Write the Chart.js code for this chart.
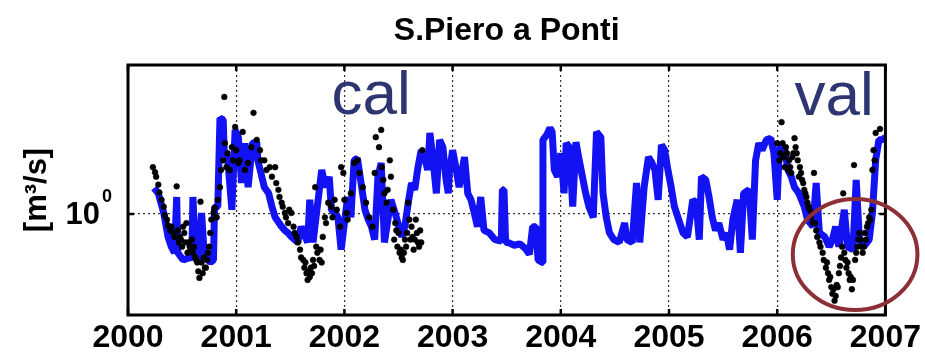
<!DOCTYPE html>
<html>
<head>
<meta charset="utf-8">
<title>S.Piero a Ponti</title>
<script src="https://cdn.jsdelivr.net/npm/chart.js@4.4.1/dist/chart.umd.min.js"></script>
<style>
  html, body { margin: 0; padding: 0; background: #fff; }
  #wrap { width: 925px; height: 358px; }
</style>
</head>
<body>
<div id="wrap"><canvas id="chart" width="925" height="358"></canvas></div>
<script>
// Simulated discharge (blue), decimal year / m3/s
const simYear = [2000.24, 2000.28, 2000.33, 2000.37, 2000.40, 2000.43, 2000.45, 2000.46, 2000.51, 2000.56,
  2000.59, 2000.60, 2000.62, 2000.65, 2000.68, 2000.70, 2000.74, 2000.76, 2000.79, 2000.80,
  2000.83, 2000.85, 2000.88, 2000.89, 2000.92, 2000.96, 2000.99, 2001.02, 2001.05, 2001.08,
  2001.11, 2001.15, 2001.19, 2001.20, 2001.26, 2001.30, 2001.33, 2001.36, 2001.42, 2001.45,
  2001.48, 2001.51, 2001.54, 2001.57, 2001.60, 2001.66, 2001.68, 2001.71, 2001.79, 2001.81,
  2001.83, 2001.86, 2001.88, 2001.91, 2001.94, 2001.97, 2002.00, 2002.03, 2002.06, 2002.09,
  2002.12, 2002.16, 2002.19, 2002.22, 2002.25, 2002.28, 2002.31, 2002.34, 2002.37, 2002.43,
  2002.48, 2002.53, 2002.56, 2002.59, 2002.62, 2002.65, 2002.68, 2002.71, 2002.74, 2002.77,
  2002.79, 2002.82, 2002.85, 2002.88, 2002.91, 2002.94, 2002.96, 2002.97, 2003.00, 2003.03,
  2003.06, 2003.11, 2003.14, 2003.17, 2003.20, 2003.23, 2003.26, 2003.29, 2003.34, 2003.39,
  2003.45, 2003.46, 2003.475, 2003.49, 2003.51, 2003.57, 2003.62, 2003.67, 2003.71, 2003.74,
  2003.77, 2003.79, 2003.83, 2003.835, 2003.87, 2003.90, 2003.92, 2003.94, 2003.97, 2004.00,
  2004.03, 2004.05, 2004.08, 2004.11, 2004.14, 2004.17, 2004.20, 2004.23, 2004.26, 2004.30,
  2004.33, 2004.37, 2004.39, 2004.42, 2004.45, 2004.49, 2004.54, 2004.59, 2004.61, 2004.66,
  2004.70, 2004.73, 2004.77, 2004.81, 2004.84, 2004.87, 2004.90, 2004.93, 2004.96, 2004.99,
  2005.02, 2005.05, 2005.10, 2005.13, 2005.17, 2005.22, 2005.25, 2005.28, 2005.30, 2005.34,
  2005.37, 2005.40, 2005.43, 2005.46, 2005.50, 2005.53, 2005.56, 2005.59, 2005.63, 2005.66,
  2005.69, 2005.74, 2005.77, 2005.80, 2005.83, 2005.86, 2005.90, 2005.94, 2005.97, 2006.00,
  2006.02, 2006.07, 2006.10, 2006.13, 2006.16, 2006.20, 2006.25, 2006.28, 2006.33, 2006.36,
  2006.39, 2006.44, 2006.48, 2006.51, 2006.54, 2006.57, 2006.62, 2006.65, 2006.70, 2006.73,
  2006.76, 2006.80, 2006.85, 2006.88, 2006.91, 2006.94, 2006.97, 2007.00];
const simFlow = [1.27, 1.21, 1.01, 0.81, 0.74, 0.70, 1.17, 0.70, 0.655, 0.667,
  0.67, 1.17, 0.74, 0.655, 1.01, 0.74, 0.655, 0.64, 0.655, 1.06,
  1.07, 2.42, 2.38, 1.75, 1.69, 1.04, 2.17, 2.03, 1.33, 1.92,
  1.28, 1.92, 1.94, 1.64, 1.28, 1.21, 1.07, 0.97, 0.89, 0.86,
  0.84, 0.81, 0.79, 0.77, 0.89, 0.77, 1.14, 0.77, 1.50, 1.37,
  1.28, 1.41, 1.04, 1.01, 0.97, 0.72, 0.92, 1.17, 0.97, 1.64,
  1.67, 1.28, 1.04, 0.95, 0.89, 0.79, 1.41, 1.60, 0.77, 1.14,
  0.97, 0.81, 0.90, 1.11, 1.33, 1.25, 1.54, 1.80, 1.69, 1.50,
  2.11, 1.64, 1.21, 1.98, 1.85, 1.37, 1.21, 1.46, 1.80, 1.54,
  1.28, 1.69, 1.21, 1.14, 1.01, 0.89, 1.17, 0.86, 0.84, 0.79,
  0.78, 1.25, 1.25, 0.77, 0.77, 0.75, 0.76, 0.73, 0.69, 0.89,
  0.89, 0.655, 0.64, 1.98, 2.07, 2.21, 2.13, 1.50, 1.41, 1.75,
  1.21, 1.92, 1.85, 1.07, 1.94, 1.64, 1.41, 1.21, 1.07, 0.97,
  2.13, 2.03, 1.21, 0.97, 0.84, 0.79, 0.77, 0.92, 0.79, 0.77,
  1.33, 0.77, 1.28, 1.69, 1.61, 1.50, 1.14, 1.89, 1.80, 1.50,
  1.28, 1.07, 0.92, 0.84, 0.81, 1.14, 1.11, 0.79, 1.41, 1.37,
  1.17, 0.97, 0.86, 0.92, 0.79, 0.84, 0.72, 0.95, 1.14, 0.70,
  1.21, 1.25, 0.79, 1.64, 1.92, 1.80, 1.98, 2.01, 1.75, 1.14,
  1.85, 1.80, 1.50, 1.41, 1.28, 1.21, 1.07, 0.95, 0.89, 1.33,
  0.84, 0.81, 0.74, 0.79, 0.89, 0.74, 1.04, 0.74, 0.72, 1.37,
  0.79, 0.74, 0.79, 1.01, 1.64, 1.98, 1.98, 2.03];

// Observed discharge (black markers)
const obsYear = [2000.23, 2000.25, 2000.26, 2000.28, 2000.29, 2000.31, 2000.33, 2000.34, 2000.36, 2000.37,
  2000.39, 2000.40, 2000.42, 2000.43, 2000.45, 2000.46, 2000.48, 2000.49, 2000.51, 2000.52,
  2000.54, 2000.56, 2000.57, 2000.59, 2000.60, 2000.62, 2000.63, 2000.65, 2000.66, 2000.67,
  2000.68, 2000.70, 2000.72, 2000.73, 2000.75, 2000.76, 2000.77, 2000.79, 2000.80, 2000.82,
  2000.83, 2000.85, 2000.86, 2000.88, 2000.89, 2000.895, 2000.91, 2000.92, 2000.94, 2000.96,
  2000.97, 2000.99, 2001.00, 2001.02, 2001.03, 2001.06, 2001.08, 2001.11, 2001.14, 2001.16,
  2001.19, 2001.22, 2001.23, 2001.26, 2001.28, 2001.31, 2001.33, 2001.36, 2001.37, 2001.39,
  2001.40, 2001.42, 2001.43, 2001.45, 2001.46, 2001.48, 2001.49, 2001.51, 2001.53, 2001.54,
  2001.56, 2001.57, 2001.59, 2001.60, 2001.62, 2001.63, 2001.65, 2001.66, 2001.68, 2001.69,
  2001.71, 2001.73, 2001.74, 2001.77, 2001.79, 2001.80, 2001.82, 2001.83, 2001.85, 2001.88,
  2001.89, 2001.91, 2001.93, 2001.96, 2001.97, 2001.99, 2002.00, 2002.02, 2002.03, 2002.06,
  2002.09, 2002.12, 2002.14, 2002.17, 2002.20, 2002.23, 2002.26, 2002.28, 2002.29, 2002.32,
  2002.34, 2002.345, 2002.36, 2002.37, 2002.39, 2002.42, 2002.43, 2002.45, 2002.47, 2002.48,
  2002.50, 2002.51, 2002.53, 2002.54, 2002.56, 2002.57, 2002.59, 2002.60, 2002.62, 2002.63,
  2002.65, 2002.66, 2002.68, 2002.70, 2002.71, 2002.72,
  2006.00, 2006.02, 2006.04, 2006.05, 2006.07, 2006.08, 2006.10, 2006.11, 2006.13, 2006.14,
  2006.16, 2006.17, 2006.19, 2006.21, 2006.22, 2006.24, 2006.25, 2006.27, 2006.28, 2006.30,
  2006.31, 2006.33, 2006.34, 2006.36, 2006.37, 2006.39, 2006.40, 2006.42, 2006.43, 2006.45,
  2006.47, 2006.48, 2006.50, 2006.51, 2006.53, 2006.54, 2006.56, 2006.57, 2006.59, 2006.60,
  2006.61, 2006.63, 2006.64, 2006.66, 2006.67, 2006.69, 2006.70, 2006.71, 2006.72, 2006.74,
  2006.76, 2006.77, 2006.79, 2006.80, 2006.82, 2006.83, 2006.85, 2006.86, 2006.88, 2006.89,
  2006.90, 2006.91, 2006.95,
  // second row of the denser clusters
  2000.47, 2000.50, 2000.53, 2000.55, 2000.58, 2000.61, 2000.64, 2000.69, 2000.71, 2000.74,
  2001.64, 2001.67, 2001.70, 2001.72, 2001.75, 2001.78,
  2002.40, 2002.46, 2002.49, 2002.52, 2002.55, 2002.58, 2002.61, 2002.64, 2002.67, 2002.69,
  2006.03, 2006.06, 2006.09, 2006.12, 2006.15, 2006.18, 2006.20, 2006.23, 2006.26, 2006.29,
  2006.32, 2006.35, 2006.46, 2006.49, 2006.52, 2006.55, 2006.58, 2006.62, 2006.65, 2006.68,
  2006.73, 2006.75, 2006.78, 2006.81, 2006.84, 2006.87];
const obsFlow = [1.54, 1.47, 1.41, 1.31, 1.22, 1.14, 1.07, 0.99, 0.95, 0.90,
  0.86, 0.89, 0.84, 0.81, 1.29, 0.86, 0.81, 0.79, 0.89, 0.84,
  0.92, 0.77, 0.74, 0.79, 0.70, 0.67, 0.655, 0.59, 0.555, 1.12,
  0.64, 0.67, 0.61, 0.655, 0.74, 0.84, 0.95, 1.01, 1.06, 0.97,
  1.14, 1.28, 1.50, 1.64, 2.94, 1.92, 1.54, 1.75, 1.50, 1.85,
  1.64, 2.23, 1.80, 1.60, 1.64, 2.13, 1.50, 1.60, 1.85, 2.54,
  1.98, 1.80, 1.64, 1.64, 1.50, 1.54, 1.41, 1.54, 1.33, 1.25,
  1.17, 1.11, 1.07, 1.01, 0.97, 0.92, 1.04, 1.01, 0.89, 0.84,
  0.81, 0.77, 0.72, 0.67, 0.655, 0.61, 0.58, 0.545, 0.56, 0.61,
  0.655, 1.28, 0.74, 0.655, 0.64, 0.81, 0.97, 0.92, 1.11, 1.07,
  0.97, 1.14, 1.04, 0.89, 1.54, 1.46, 1.14, 1.01, 0.95, 1.21,
  1.60, 1.64, 1.46, 1.28, 1.11, 0.97, 0.89, 1.46, 2.03, 1.85,
  2.17, 1.54, 1.37, 1.21, 1.11, 1.64, 1.41, 1.04, 0.92, 0.86,
  0.84, 0.70, 0.67, 0.655, 0.79, 0.74, 1.11, 0.95, 0.89, 0.81,
  0.79, 0.95, 0.77, 0.86, 0.77, 1.80,
  1.92, 1.64, 2.33, 1.92, 1.54, 1.85, 1.50, 1.64, 1.46, 1.69,
  2.01, 1.85, 1.64, 1.54, 1.46, 1.33, 1.25, 1.17, 1.11, 1.04,
  0.97, 0.92, 1.46, 0.86, 0.81, 0.77, 0.74, 0.70, 0.655, 0.61,
  0.58, 0.545, 0.51, 0.48, 0.45, 0.47, 0.51, 0.58, 0.67, 0.74,
  1.21, 0.655, 0.61, 0.58, 0.545, 0.50, 0.545, 1.57, 0.655, 0.74,
  0.84, 0.79, 0.70, 0.74, 0.79, 0.89, 0.97, 0.95, 1.50, 1.80,
  1.64, 2.11, 2.19,
  0.77, 0.74, 0.77, 0.70, 0.72, 0.74, 0.64, 0.58, 0.61, 0.70,
  0.64, 0.59, 0.58, 0.62, 0.70, 0.72,
  1.25, 0.79, 0.74, 0.72, 0.70, 0.84, 0.79, 0.72, 0.84, 0.74,
  1.75, 1.69, 1.75, 1.54, 1.75, 1.75, 1.41, 1.37, 1.21, 1.07,
  1.01, 0.92, 0.64, 0.56, 0.50, 0.52, 0.62, 0.70, 0.64, 0.56,
  0.70, 0.79, 0.74, 0.84, 0.92, 1.04];

// Axis ticks
const yearTicks = [2000, 2001, 2002, 2003, 2004, 2005, 2006, 2007];
const flowTicks = [1];

// Annotations (data coordinates)
const periodLabels = [
  { text: "cal", year: 2001.88, flow: 2.51 },
  { text: "val", year: 2006.16, flow: 2.49 }
];
const circleCenter = { year: 2006.72, flow: 0.689 };
const circleRadius = { years: 0.576, decades: 0.222 };

const FONT = "'Liberation Sans', Arial, Helvetica, sans-serif";

const toPoints = (xs, ys) => xs.map((x, i) => ({ x: x, y: ys[i] }));

// Matlab-style box, inward ticks, 10^0 label and annotations
const overlay = {
  id: "overlay",
  afterDatasetsDraw(chart) {
    const { ctx, scales } = chart;
    ctx.save();
    ctx.fillStyle = "#2d3572";
    ctx.font = "62px " + FONT;
    ctx.textAlign = "left";
    ctx.textBaseline = "alphabetic";
    periodLabels.forEach(l => {
      ctx.fillText(l.text, scales.x.getPixelForValue(l.year), scales.y.getPixelForValue(l.flow));
    });
    ctx.restore();
  },
  afterDraw(chart) {
    const { ctx, chartArea: a, scales } = chart;
    const xs = scales.x, ys = scales.y;
    ctx.save();
    ctx.strokeStyle = "#000";
    ctx.lineWidth = 3;
    ctx.strokeRect(a.left, a.top, a.right - a.left, a.bottom - a.top);

    ctx.lineWidth = 2.5;
    ctx.beginPath();
    yearTicks.forEach(t => {
      const px = xs.getPixelForValue(t);
      ctx.moveTo(px, a.bottom); ctx.lineTo(px, a.bottom - 6);
      ctx.moveTo(px, a.top); ctx.lineTo(px, a.top + 6);
    });
    flowTicks.forEach(t => {
      const py = ys.getPixelForValue(t);
      ctx.moveTo(a.left, py); ctx.lineTo(a.left + 6, py);
      ctx.moveTo(a.right, py); ctx.lineTo(a.right - 6, py);
    });
    ctx.stroke();

    // 10^n tick labels
    ctx.fillStyle = "#000";
    ctx.textBaseline = "middle";
    flowTicks.forEach(t => {
      const py = ys.getPixelForValue(t);
      const exp = String(Math.round(Math.log10(t)));
      ctx.font = "bold 31px " + FONT;
      ctx.textAlign = "right";
      ctx.fillText("10", a.left - 28, py + 1);
      ctx.font = "bold 18px " + FONT;
      ctx.textAlign = "left";
      ctx.fillText(exp, a.left - 26, py - 17);
    });

    // highlighted validation period
    const cx = xs.getPixelForValue(circleCenter.year);
    const cy = ys.getPixelForValue(circleCenter.flow);
    const rx = xs.getPixelForValue(circleCenter.year + circleRadius.years) - cx;
    const ry = cy - ys.getPixelForValue(circleCenter.flow * Math.pow(10, circleRadius.decades));
    ctx.strokeStyle = "#8c2f37";
    ctx.lineWidth = 4;
    ctx.beginPath();
    ctx.ellipse(cx, cy, rx, ry, 0, 0, Math.PI * 2);
    ctx.stroke();
    ctx.restore();
  }
};

new Chart(document.getElementById("chart"), {
  type: "line",
  data: {
    datasets: [
      {
        label: "observed",
        data: toPoints(obsYear, obsFlow),
        showLine: false,
        pointStyle: "circle",
        pointRadius: 2.9,
        pointBackgroundColor: "#000",
        pointBorderColor: "#000",
        pointBorderWidth: 0.5
      },
      {
        label: "simulated",
        data: toPoints(simYear, simFlow),
        borderColor: "#1212f2",
        borderWidth: 7,
        borderJoinStyle: "bevel",
        pointRadius: 0,
        tension: 0
      }
    ]
  },
  options: {
    responsive: false,
    animation: false,
    devicePixelRatio: 1,
    layout: { padding: { left: 0, right: 37, top: 0, bottom: 0 } },
    plugins: {
      legend: { display: false },
      tooltip: { enabled: false },
      title: {
        display: true,
        text: "S.Piero a Ponti",
        fullSize: false,
        color: "#000",
        font: { family: FONT, size: 32, weight: "bold" },
        padding: { top: 11.8, bottom: 14.8 }
      }
    },
    scales: {
      x: {
        type: "linear",
        min: 2000,
        max: 2007,
        afterBuildTicks: s => { s.ticks = yearTicks.map(v => ({ value: v })); },
        afterFit: s => { s.height = 43; },
        ticks: {
          color: "#000",
          padding: 4,
          maxRotation: 0,
          font: { family: FONT, size: 32, weight: "bold" },
          callback: v => String(v)
        },
        grid: { color: "#333", lineWidth: 1.2, drawTicks: false },
        border: { display: false, dash: [2, 3] }
      },
      y: {
        type: "logarithmic",
        min: 0.3945,
        max: 3.945,
        afterBuildTicks: s => { s.ticks = flowTicks.map(v => ({ value: v })); },
        afterFit: s => { s.width = 128; },
        ticks: { display: false },
        grid: { color: "#333", lineWidth: 1.2, drawTicks: false },
        border: { display: false, dash: [2, 3] },
        title: {
          display: true,
          text: "[m³/s]",
          color: "#000",
          font: { family: FONT, size: 31, weight: "bold" },
          padding: { top: 19, bottom: 0 }
        }
      }
    }
  },
  plugins: [overlay]
});
</script>
</body>
</html>
